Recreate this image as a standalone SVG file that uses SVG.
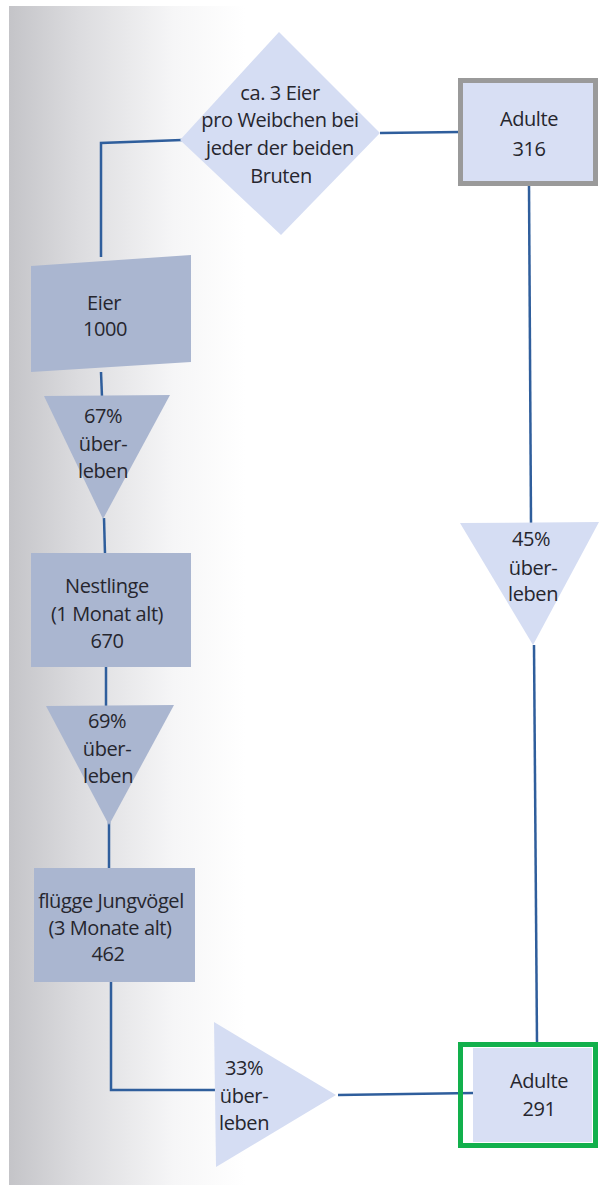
<svg xmlns="http://www.w3.org/2000/svg" width="599" height="1185" viewBox="0 0 599 1185">
<defs>
<linearGradient id="page" x1="0" y1="0" x2="1" y2="0" gradientUnits="objectBoundingBox">
<stop offset="0" stop-color="#c4c4c8"/>
<stop offset="0.12" stop-color="#dcdcdf"/>
<stop offset="0.28" stop-color="#f6f6f7"/>
<stop offset="0.4" stop-color="#ffffff"/>
<stop offset="1" stop-color="#ffffff"/>
</linearGradient>
<style>
.lbl{font-family:"Open Sans","Liberation Sans",sans-serif;font-size:20px;fill:#26262e;text-anchor:middle;dominant-baseline:central;letter-spacing:-0.4px}
.dark{fill:#aab6d0}
.light{fill:#d5ddf3}
.conn{fill:none;stroke:#2f5e9c;stroke-width:2.5}
</style>
</defs>
<rect x="0" y="0" width="599" height="1185" fill="#ffffff"/>
<rect x="9" y="6" width="590" height="1179" fill="url(#page)"/>

<g id="connectors">
<polyline class="conn" points="182,140 101,143 101,257"/>
<line class="conn" x1="380" y1="133" x2="460" y2="132"/>
<line class="conn" x1="101" y1="372" x2="102" y2="397"/>
<line class="conn" x1="104" y1="518" x2="105" y2="554"/>
<line class="conn" x1="106" y1="667" x2="106" y2="706"/>
<line class="conn" x1="109" y1="822" x2="109" y2="869"/>
<polyline class="conn" points="111,982 111,1090 216,1090"/>
<line class="conn" x1="338" y1="1095" x2="474" y2="1093"/>
<line class="conn" x1="529" y1="185" x2="531" y2="523"/>
<line class="conn" x1="534" y1="645" x2="537" y2="1043"/>
</g>

<g id="diamond">
<polygon class="light" points="279,32 380,133 281,235 180,140"/>
<text class="lbl" x="280" y="92">ca. 3 Eier</text>
<text class="lbl" x="280" y="119">pro Weibchen bei</text>
<text class="lbl" x="280" y="147">jeder der beiden</text>
<text class="lbl" x="281" y="175">Bruten</text>
</g>

<g id="adulte316">
<rect x="460.5" y="80.5" width="135" height="103" fill="#d8dff4" stroke="#9a9a9a" stroke-width="5"/>
<text class="lbl" x="529" y="118">Adulte</text>
<text class="lbl" x="529" y="148">316</text>
</g>

<g id="eier">
<polygon class="dark" points="31,266 191,255 191,362 31,372"/>
<text class="lbl" x="104" y="302">Eier</text>
<text class="lbl" x="105" y="328">1000</text>
</g>

<g id="tri67">
<polygon class="dark" points="44,396 170,395 103,519"/>
<text class="lbl" x="103" y="415">67%</text>
<text class="lbl" x="103" y="443">über-</text>
<text class="lbl" x="103" y="470">leben</text>
</g>

<g id="nestlinge">
<rect class="dark" x="31" y="553" width="160" height="114"/>
<text class="lbl" x="107" y="585">Nestlinge</text>
<text class="lbl" x="107" y="613">(1 Monat alt)</text>
<text class="lbl" x="107" y="640">670</text>
</g>

<g id="tri69">
<polygon class="dark" points="46,706 174,705 109,825"/>
<text class="lbl" x="107" y="720">69%</text>
<text class="lbl" x="107" y="748">über-</text>
<text class="lbl" x="108" y="775">leben</text>
</g>

<g id="fluegge">
<rect class="dark" x="34" y="868" width="161" height="114"/>
<text class="lbl" x="111" y="900">flügge Jungvögel</text>
<text class="lbl" x="110" y="927">(3 Monate alt)</text>
<text class="lbl" x="108" y="953">462</text>
</g>

<g id="tri45">
<polygon class="light" points="460,523 599,522 533,645"/>
<text class="lbl" x="531" y="538">45%</text>
<text class="lbl" x="533" y="567">über-</text>
<text class="lbl" x="533" y="593">leben</text>
</g>

<g id="tri33">
<polygon class="light" points="214,1022 336,1095 216,1167"/>
<text class="lbl" x="244" y="1067">33%</text>
<text class="lbl" x="244" y="1095">über-</text>
<text class="lbl" x="244" y="1122">leben</text>
</g>

<g id="adulte291">
<rect x="473" y="1048" width="119" height="94" fill="#d8dff4"/>
<rect x="460.5" y="1044.5" width="135" height="101" fill="none" stroke="#12b04c" stroke-width="5"/>
<text class="lbl" x="539" y="1080">Adulte</text>
<text class="lbl" x="539" y="1108">291</text>
</g>
</svg>
